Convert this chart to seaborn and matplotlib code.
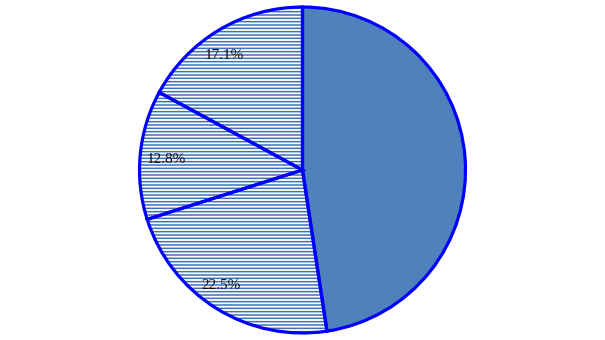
import matplotlib
matplotlib.use("Agg")
import matplotlib.pyplot as plt
import seaborn as sns

sns.set_style("white")
plt.rcParams['font.family'] = ['Liberation Serif', 'DejaVu Serif']

values = [47.6, 22.5, 12.8, 17.1]
labels_shown = ["", "22.5%", "12.8%", "17.1%"]
fill_colors = ["#4f81bd", "white", "white", "white"]
hatches = [None, "-----", "-----", "-----"]
# label anchor points (radius fraction, angle in degrees)
label_pos = [None, (0.860, -125.4), (0.840, 175.0), (0.855, 123.9)]

fig = plt.figure(figsize=(6.05, 3.4), dpi=100)
ax = fig.add_axes([0, 0, 1, 1])

plt.rcParams['hatch.linewidth'] = 1.1
wedges, texts = ax.pie(values, startangle=90, counterclock=False,
                       colors=fill_colors, labels=None,
                       wedgeprops=dict(linewidth=0, edgecolor="#3f72b5"))
for w, h in zip(wedges, hatches):
    if h:
        w.set_hatch(h)

wedges2, _ = ax.pie(values, startangle=90, counterclock=False,
                    wedgeprops=dict(fill=False, linewidth=2.3, edgecolor="#0000ff"))

import numpy as np
for lab, pos in zip(labels_shown, label_pos):
    if lab and pos:
        r, ang = pos
        ax.text(r * np.cos(np.radians(ang)), r * np.sin(np.radians(ang)), lab,
                ha="center", va="center_baseline", fontsize=11, color="#111111")

ax.set_aspect("equal")
ax.set_xlim(-1.043 * 605 / 340, 1.043 * 605 / 340)
ax.set_ylim(-1.043, 1.043)
ax.axis("off")
fig.savefig("out.png", dpi=100)
